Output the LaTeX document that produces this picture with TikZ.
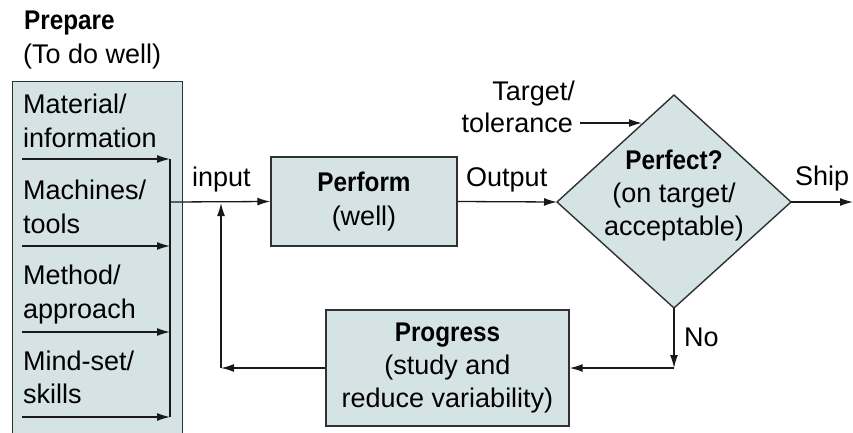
\documentclass[tikz,border=0pt]{standalone}
\usepackage{fontspec}
\setmainfont{Liberation Sans}
\newfontfamily\headfont{Liberation Sans}[FakeStretch=0.9]
\usetikzlibrary{arrows.meta}

\definecolor{boxfill}{RGB}{214,227,228}
\definecolor{boxedge}{RGB}{45,50,50}
\definecolor{wire}{RGB}{25,25,25}

\begin{document}
\begin{tikzpicture}[x=1pt,y=-1pt,
  txt/.style={inner sep=0pt, font=\fontsize{27}{34}\selectfont},
  head/.style={inner sep=0pt, font=\fontsize{27}{34}\headfont\bfseries},
  procbox/.style={draw=boxedge, fill=boxfill, line width=1.4pt, inner sep=0pt,
    align=center, font=\fontsize{27}{34}\selectfont},
  flow/.style={draw=wire, line width=1.3pt, -{Latex[length=13pt,width=8pt]}},
  plain/.style={draw=wire, line width=1.3pt}]

\useasboundingbox (0,0) rectangle (853,432);

% ---- Prepare column ----
\node[head, anchor=base west] (preptitle) at (24,29) {Prepare};
\node[txt, anchor=base west] (prepsub) at (23,63) {(To do well)};
\node[draw=boxedge, fill=boxfill, line width=1.4pt, anchor=north west,
      minimum width=170pt, minimum height=370pt, inner sep=0pt] (prep) at (12,81) {};

\node[txt, anchor=base west] (m1a) at (23,113) {Material/};
\node[txt, anchor=base west] (m1b) at (23,147) {information};
\node[txt, anchor=base west] (m2a) at (23,199) {Machines/};
\node[txt, anchor=base west] (m2b) at (23,233) {tools};
\node[txt, anchor=base west] (m3a) at (23,284) {Method/};
\node[txt, anchor=base west] (m3b) at (23,318) {approach};
\node[txt, anchor=base west] (m4a) at (23,370) {Mind-set/};
\node[txt, anchor=base west] (m4b) at (23,403) {skills};

% feeder arrows and collecting bus
\coordinate (f1) at (22,159);  \coordinate (b1) at (170,159);
\coordinate (f2) at (22,246);  \coordinate (b2) at (170,246);
\coordinate (f3) at (22,332);  \coordinate (b3) at (170,332);
\coordinate (f4) at (22,417);  \coordinate (b4) at (170,417);
\coordinate (bmid) at (170,202);
\draw[flow] (f1) -- (b1);
\draw[flow] (f2) -- (b2);
\draw[flow] (f3) -- (b3);
\draw[flow] (f4) -- (b4);
\draw[plain] (b1) -- (b4);

% ---- Perform ----
\node[procbox, minimum width=186pt, minimum height=89pt] (perform) at (364,201.5)
  {{\headfont\bfseries Perform}\\(well)};
\draw[flow] (bmid) -- (perform.west);
\node[txt, anchor=base west] (inputlbl) at (192,186) {input};

% ---- Perfect? decision ----
\coordinate (dl) at (557,202);
\coordinate (dt) at (674,95);
\coordinate (dr) at (791,202);
\coordinate (db) at (674,308);
\draw[draw=boxedge, fill=boxfill, line width=1.4pt] (dl) -- (dt) -- (dr) -- (db) -- cycle;
\node[txt, align=center] (perfect) at (674,196)
  {{\headfont\bfseries Perfect?}\\[-1pt](on target/\\[-1pt]acceptable)};

\draw[flow] (perform.east) -- (dl);
\node[txt, anchor=base west] (outputlbl) at (466,186) {Output};

% target / tolerance input
\node[txt, anchor=base east] (target) at (575,100) {Target/};
\node[txt, anchor=base east] (tolerance) at (573,132) {tolerance};
\coordinate (tolstart) at (580,123);
\coordinate (tolend) at (642,123);
\draw[flow] (tolstart) -- (tolend);

% ship
\coordinate (shipend) at (853,202);
\draw[flow] (dr) -- (shipend);
\node[txt, anchor=base west] (shiplbl) at (795,185) {Ship};

% ---- Progress ----
\node[procbox, minimum width=243pt, minimum height=116pt] (progress) at (447.5,368)
  {{\headfont\bfseries Progress}\\[-1pt](study and\\[-1pt]reduce variability)};

\coordinate (nocorner) at (674,368);
\draw[flow] (db) -- (nocorner);
\draw[flow] (nocorner) -- (progress.east);
\node[txt, anchor=base west] (nolbl) at (684,346) {No};

% feedback loop back into the input line
\coordinate (fbcorner) at (221,368);
\coordinate (fbend) at (221,203);
\draw[flow] (progress.west) -- (fbcorner);
\draw[flow] (fbcorner) -- (fbend);

\end{tikzpicture}
\end{document}
